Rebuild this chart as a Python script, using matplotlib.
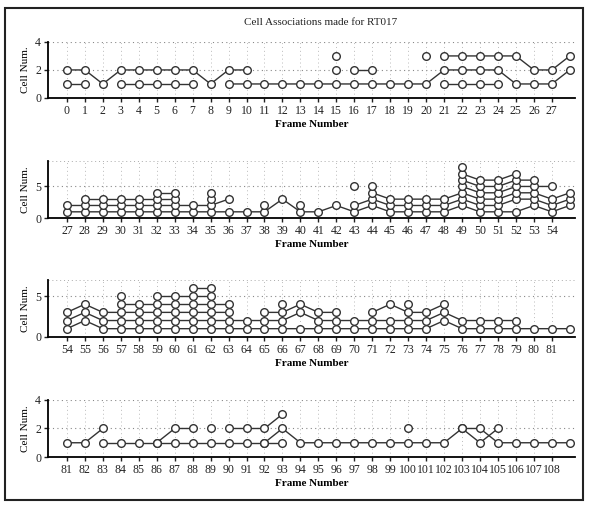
import numpy as np
import matplotlib.pyplot as plt
from matplotlib.patches import Rectangle

plt.rcParams['font.family'] = ['Liberation Serif', 'DejaVu Serif']

title = 'Cell Associations made for RT017'

# first frame of each strip
starts = [0, 27, 54, 81]
ymax = [4, 9, 7, 4]
yticks = [[0, 2, 4], [0, 5], [0, 5], [0, 2, 4]]

# tracks: (first frame, cell numbers on consecutive frames)
tracks_1 = [
    (0, [2, 2, 1, 2, 2, 2, 2, 2, 1, 2, 2]),
    (0, [1, 1]),
    (3, [1, 1, 1, 1, 1]),
    (9, [1, 1, 1, 1, 1, 1, 1, 1, 1, 1, 1, 1, 2, 2, 2, 2, 1, 1, 1, 2]),
    (21, [3, 3, 3, 3, 3, 2, 2, 3]),
    (21, [1, 1, 1, 1]),
    (16, [2, 2]),
    (15, [2]),
    (15, [3]),
    (20, [3]),
]
tracks_2 = [
    (27, [1, 1, 1, 1, 1, 1, 1, 1, 1, 1, 1, 1, 3, 1, 1, 2, 1, 2, 1, 1, 1, 1, 2, 1, 1, 1, 2, 1, 2]),
    (27, [2, 2, 2, 2, 2, 2, 2, 2, 2, 3]),
    (43, [2, 3, 2, 2, 2, 2, 3, 2, 2, 3, 3, 2, 3]),
    (28, [3, 3, 3, 3, 3, 3]),
    (44, [4, 3, 3, 3, 3, 4, 3, 3, 4, 4, 3, 4]),
    (32, [4, 4]),
    (49, [5, 4, 4, 5, 5, 5]),
    (49, [6, 5, 5, 6, 6]),
    (49, [7, 6, 6, 7]),
    (49, [8]),
    (35, [3]),
    (35, [4]),
    (38, [2]),
    (40, [2]),
    (43, [5]),
    (44, [5]),
]
tracks_3 = [
    (54, [1, 2, 1, 1, 1, 1, 1, 1, 1, 1, 1, 1, 1, 1, 1, 1, 1, 1, 1, 1, 1, 2, 1, 1, 1, 1, 1, 1, 1]),
    (54, [2, 3, 2, 2, 2, 2, 2, 2, 2, 2, 2, 2, 2, 3, 2, 2, 2, 2, 2, 2, 2, 3, 2, 2, 2, 2]),
    (54, [3, 4, 3, 3, 3, 3, 3, 3, 3, 3]),
    (65, [3, 3, 4, 3, 3]),
    (71, [3, 4, 3, 3, 4]),
    (57, [4, 4, 4, 4, 4, 4, 4]),
    (66, [4]),
    (73, [4]),
    (57, [5]),
    (59, [5, 5, 5, 5]),
    (61, [6, 6]),
]
tracks_4 = [
    (81, [1, 1, 2]),
    (83, [1, 1, 1, 1, 1, 1, 1, 1, 1, 1, 1]),
    (86, [1, 2, 2]),
    (90, [2, 2, 2, 3]),
    (92, [1, 2, 1, 1, 1, 1, 1, 1, 1, 1, 1, 2, 2, 1, 1, 1, 1, 1]),
    (103, [2, 1, 2]),
    (89, [2]),
    (100, [2]),
]
all_tracks = [tracks_1, tracks_2, tracks_3, tracks_4]

# axes boxes in figure fraction (left, bottom, width, height)
boxes = [
    [0.081, 0.806, 0.889, 0.111],
    [0.081, 0.568, 0.889, 0.113],
    [0.081, 0.333, 0.889, 0.113],
    [0.081, 0.095, 0.889, 0.113],
]

fig = plt.figure(figsize=(5.93, 5.05), dpi=100)
fig.patches.append(Rectangle((0.009, 0.01), 0.974, 0.974, transform=fig.transFigure,
                             fill=False, edgecolor='#222222', lw=1.5))
fig.text(0.54, 0.955, title, ha='center', va='center', fontsize=8, color='#222222')

for k in range(4):
    ax = fig.add_axes(boxes[k])
    s = starts[k]
    ax.set_xlim(s - 1.05, s + 28.3)
    ax.set_ylim(0, ymax[k])
    ax.set_xticks(np.arange(s, s + 28))
    ax.set_xticklabels([str(v) for v in range(s, s + 28)], fontsize=8.5)
    ax.set_yticks(yticks[k])
    ax.set_yticklabels([str(v) for v in yticks[k]], fontsize=8.5)
    ax.tick_params(axis='both', direction='out', length=3, width=1, colors='#222222', pad=2)
    for v in range(s, s + 28):
        ax.axvline(v, color='#bbbbbb', ls=(0, (1, 3)), lw=0.7, zorder=0)
    for v in yticks[k][1:]:
        ax.axhline(v, color='#888888', ls=(0, (1, 3)), lw=0.8, zorder=0)
    if ymax[k] not in yticks[k]:
        ax.axhline(ymax[k], color='#aaaaaa', ls=(0, (1, 3)), lw=0.7, zorder=0)
    ax.spines['top'].set_visible(False)
    ax.spines['right'].set_visible(False)
    ax.spines['left'].set_linewidth(1.3)
    ax.spines['bottom'].set_linewidth(1.3)
    for f0, vals in all_tracks[k]:
        x = np.arange(f0, f0 + len(vals))
        ax.plot(x, vals, '-o', color='#333333', lw=1.0, ms=5.5,
                mfc='white', mec='#333333', mew=1.0, zorder=3, clip_on=False)
    ax.set_ylabel('Cell Num.', fontsize=8, labelpad=4)
    ax.set_xlabel('Frame Number', fontsize=8, fontweight='bold', labelpad=2)

fig.savefig('out.png', dpi=100)
